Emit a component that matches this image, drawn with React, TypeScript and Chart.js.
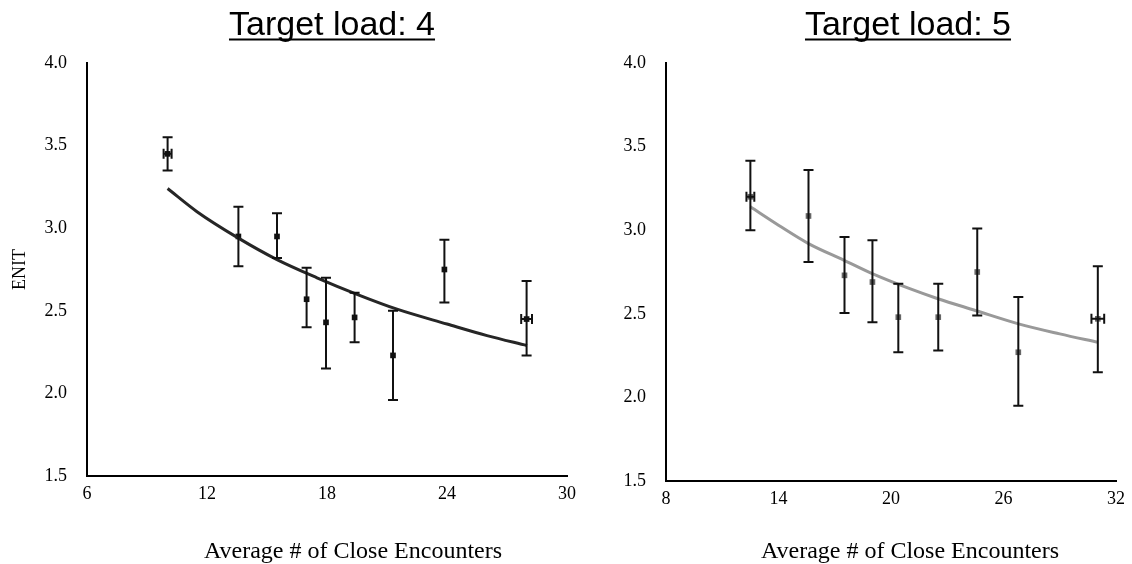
import React, { useEffect, useRef } from "react";
import { Chart, registerables } from "chart.js";

Chart.register(...registerables);

// ---------- Target load: 4 ----------
const load4X = [10.03, 13.57, 15.5, 16.98, 17.95, 19.38, 21.3, 23.87, 27.98];
const load4Y = [3.45, 2.95, 2.95, 2.57, 2.43, 2.46, 2.23, 2.75, 2.45];
const load4Hi = [3.55, 3.13, 3.09, 2.76, 2.7, 2.61, 2.5, 2.93, 2.68];
const load4Lo = [3.35, 2.77, 2.82, 2.4, 2.15, 2.31, 1.96, 2.55, 2.23];
const load4XErr = [0.2, 0, 0, 0, 0, 0, 0, 0, 0.27];
const trend4X = [10.03, 11.5, 13.57, 15.5, 17.5, 19.5, 21.5, 24, 26, 28];
const trend4Y = [3.24, 3.1, 2.94, 2.81, 2.7, 2.6, 2.51, 2.42, 2.35, 2.29];

// ---------- Target load: 5 ----------
const load5X = [12.5, 15.6, 17.52, 19.01, 20.39, 22.52, 24.6, 26.79, 31.03];
const load5Y = [3.2, 3.085, 2.73, 2.69, 2.48, 2.48, 2.75, 2.27, 2.47];
const load5Hi = [3.415, 3.36, 2.96, 2.94, 2.68, 2.68, 3.01, 2.6, 2.785];
const load5Lo = [3.0, 2.81, 2.505, 2.45, 2.27, 2.28, 2.49, 1.95, 2.15];
const load5XErr = [0.21, 0, 0, 0, 0, 0, 0, 0, 0.34];
const trend5X = [12.5, 14, 15.6, 17.5, 19, 21, 22.5, 24.5, 26.8, 29, 31.03];
const trend5Y = [3.14, 3.03, 2.92, 2.82, 2.74, 2.65, 2.59, 2.52, 2.44, 2.38, 2.33];

const yTicks = [1.5, 2.0, 2.5, 3.0, 3.5, 4.0];
const xTicks4 = [6, 12, 18, 24, 30];
const xTicks5 = [8, 14, 20, 26, 32];

const SERIF = '"Liberation Serif", "Times New Roman", Times, serif';
const SANS = '"Liberation Sans", Arial, Helvetica, sans-serif';

function errorBarPlugin(xs: number[], ys: number[], hi: number[], lo: number[], xErr: number[]) {
  return {
    id: "errorBars",
    afterDatasetsDraw(chart: any) {
      const { ctx } = chart;
      const xs_ = chart.scales.x;
      const ys_ = chart.scales.y;
      const cap = 5;
      ctx.save();
      ctx.strokeStyle = "#111";
      ctx.lineWidth = 2;
      for (let i = 0; i < xs.length; i++) {
        const px = xs_.getPixelForValue(xs[i]);
        const pHi = ys_.getPixelForValue(hi[i]);
        const pLo = ys_.getPixelForValue(lo[i]);
        ctx.beginPath();
        ctx.moveTo(px, pHi);
        ctx.lineTo(px, pLo);
        ctx.moveTo(px - cap, pHi);
        ctx.lineTo(px + cap, pHi);
        ctx.moveTo(px - cap, pLo);
        ctx.lineTo(px + cap, pLo);
        if (xErr[i] > 0) {
          const py = ys_.getPixelForValue(ys[i]);
          const l = xs_.getPixelForValue(xs[i] - xErr[i]);
          const r = xs_.getPixelForValue(xs[i] + xErr[i]);
          ctx.moveTo(l, py);
          ctx.lineTo(r, py);
          ctx.moveTo(l, py - cap);
          ctx.lineTo(l, py + cap);
          ctx.moveTo(r, py - cap);
          ctx.lineTo(r, py + cap);
        }
        ctx.stroke();
      }
      ctx.restore();
    },
  };
}

function decorPlugin(title: string, titleX: number, xLabel: string, xLabelX: number) {
  return {
    id: "decor",
    afterDraw(chart: any) {
      const { ctx } = chart;
      ctx.save();
      ctx.fillStyle = "#000";
      ctx.textAlign = "center";
      ctx.textBaseline = "alphabetic";
      ctx.font = `34px ${SANS}`;
      ctx.fillText(title, titleX, 35);
      const w = ctx.measureText(title).width;
      ctx.fillRect(titleX - w / 2, 38.5, w, 2);
      ctx.font = `24px ${SERIF}`;
      ctx.fillText(xLabel, xLabelX, 557.5);
      ctx.restore();
    },
  };
}

function makeConfig(opts: {
  xs: number[]; ys: number[]; hi: number[]; lo: number[]; xErr: number[];
  tx: number[]; ty: number[]; xTicks: number[];
  lineColor: string; pointColor: string; yTitle: string | null;
  padRight: number; xHeight: number; yWidth: number;
  title: string; titleX: number; xLabelX: number;
}) {
  const points = opts.xs.map((x, i) => ({ x, y: opts.ys[i] }));
  const trend = opts.tx.map((x, i) => ({ x, y: opts.ty[i] }));
  return {
    type: "scatter" as const,
    data: {
      datasets: [
        {
          data: trend,
          showLine: true,
          borderColor: opts.lineColor,
          borderWidth: 3,
          pointRadius: 0,
          cubicInterpolationMode: "monotone" as const,
          fill: false,
        },
        {
          data: points,
          pointStyle: "rect" as const,
          pointRadius: 4,
          backgroundColor: opts.pointColor,
          borderColor: opts.pointColor,
          borderWidth: 0,
        },
      ],
    },
    options: {
      responsive: false,
      animation: false as const,
      devicePixelRatio: 1,
      layout: { padding: { left: 0, right: opts.padRight, top: 63, bottom: 0 } },
      plugins: {
        legend: { display: false },
        tooltip: { enabled: false },
        title: { display: false },
      },
      scales: {
        x: {
          type: "linear" as const,
          min: opts.xTicks[0],
          max: opts.xTicks[opts.xTicks.length - 1],
          afterBuildTicks(scale: any) {
            scale.ticks = opts.xTicks.map((v) => ({ value: v }));
          },
          afterFit(scale: any) {
            scale.height = opts.xHeight;
          },
          ticks: {
            color: "#000",
            padding: 7,
            font: { family: SERIF, size: 18 },
            callback: (v: any) => String(v),
          },
          grid: { display: false, drawTicks: false },
          border: { display: true, color: "#000", width: 2 },
        },
        y: {
          type: "linear" as const,
          min: 1.5,
          max: 4.0,
          afterBuildTicks(scale: any) {
            scale.ticks = yTicks.map((v) => ({ value: v }));
          },
          afterFit(scale: any) {
            scale.width = opts.yWidth;
          },
          ticks: {
            color: "#000",
            padding: 20,
            font: { family: SERIF, size: 18 },
            callback: (v: any) => Number(v).toFixed(1),
          },
          title: opts.yTitle
            ? {
                display: true,
                text: opts.yTitle,
                color: "#000",
                font: { family: SERIF, size: 18 },
                padding: { top: 9, bottom: 0 },
              }
            : { display: false },
          grid: { display: false, drawTicks: false },
          border: { display: true, color: "#000", width: 2 },
        },
      },
    },
    plugins: [
      errorBarPlugin(opts.xs, opts.ys, opts.hi, opts.lo, opts.xErr),
      decorPlugin(opts.title, opts.titleX, "Average # of Close Encounters", opts.xLabelX),
    ],
  };
}

export default function App() {
  const leftRef = useRef<HTMLCanvasElement | null>(null);
  const rightRef = useRef<HTMLCanvasElement | null>(null);

  useEffect(() => {
    document.body.style.margin = "0";
    const c1 = new Chart(
      leftRef.current as HTMLCanvasElement,
      makeConfig({
        xs: load4X, ys: load4Y, hi: load4Hi, lo: load4Lo, xErr: load4XErr,
        tx: trend4X, ty: trend4Y, xTicks: xTicks4,
        lineColor: "#262626", pointColor: "#111", yTitle: "ENIT",
        padRight: 23, xHeight: 88, yWidth: 87,
        title: "Target load: 4", titleX: 332, xLabelX: 353,
      }) as any
    );
    const c2 = new Chart(
      rightRef.current as HTMLCanvasElement,
      makeConfig({
        xs: load5X, ys: load5Y, hi: load5Hi, lo: load5Lo, xErr: load5XErr,
        tx: trend5X, ty: trend5Y, xTicks: xTicks5,
        lineColor: "#999999", pointColor: "#666", yTitle: null,
        padRight: 15, xHeight: 83, yWidth: 86,
        title: "Target load: 5", titleX: 328, xLabelX: 330,
      }) as any
    );
    return () => {
      c1.destroy();
      c2.destroy();
    };
  }, []);

  return (
    <div style={{ position: "fixed", left: 0, top: 0, width: 1132, height: 564, background: "#fff" }}>
      <canvas
        ref={leftRef}
        width={590}
        height={564}
        style={{ position: "absolute", left: 0, top: 0, width: 590, height: 564 }}
      />
      <canvas
        ref={rightRef}
        width={552}
        height={564}
        style={{ position: "absolute", left: 580, top: 0, width: 552, height: 564 }}
      />
    </div>
  );
}
